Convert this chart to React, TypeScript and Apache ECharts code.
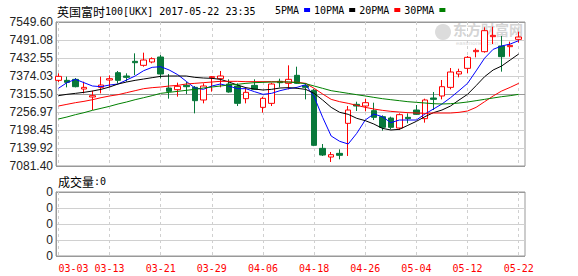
import React, { useEffect, useRef } from 'react';
import * as echarts from 'echarts';

const dates = [
  '03-03', '03-06', '03-07', '03-08', '03-09', '03-10', '03-13', '03-14', '03-15', '03-16', '03-17',
  '03-20', '03-21', '03-22', '03-23', '03-24', '03-27', '03-28', '03-29', '03-30', '03-31',
  '04-03', '04-04', '04-05', '04-06', '04-07', '04-10', '04-11', '04-12', '04-13', '04-18',
  '04-19', '04-20', '04-21', '04-24', '04-25', '04-26', '04-27', '04-28', '05-01', '05-02',
  '05-03', '05-04', '05-05', '05-08', '05-09', '05-10', '05-11', '05-12', '05-15', '05-16',
  '05-17', '05-18', '05-19', '05-22',
];
const opens = [
  7359.9, 7359.9, 7363.1, 7331.7, 7305.7, 7337.1, 7361.0, 7384.8, 7374.0, 7421.7, 7408.7,
  7419.5, 7435.8, 7335.0, 7329.6, 7343.6, 7337.1, 7296.0, 7368.6, 7365.3, 7348.0, 7341.5,
  7300.3, 7343.6, 7272.1, 7285.1, 7356.7, 7350.1, 7376.2, 7342.5, 7327.6, 7138.8, 7110.6,
  7122.5, 7220.1, 7281.9, 7276.4, 7261.3, 7241.8, 7237.4, 7204.9, 7239.6, 7263.4, 7235.3,
  7302.5, 7309.0, 7337.1, 7380.5, 7398.9, 7453.1, 7453.1, 7501.9, 7471.5, 7469.4, 7493.2,
];
const closes = [
  7372.9, 7353.4, 7339.3, 7337.1, 7310.1, 7344.7, 7365.3, 7359.9, 7369.7, 7417.3, 7426.0,
  7430.4, 7380.5, 7324.1, 7340.4, 7339.3, 7293.8, 7341.5, 7371.8, 7374.0, 7322.0, 7285.1,
  7320.9, 7330.6, 7301.4, 7348.0, 7352.3, 7363.2, 7350.1, 7337.1, 7148.6, 7117.1, 7118.2,
  7116.1, 7263.4, 7276.4, 7287.3, 7239.6, 7207.1, 7207.1, 7248.3, 7235.3, 7249.4, 7296.0,
  7298.1, 7339.3, 7387.0, 7388.1, 7434.7, 7457.4, 7521.4, 7506.2, 7436.9, 7473.7, 7500.8,
];
const lows = [
  7354.5, 7337.1, 7337.1, 7317.6, 7263.4, 7317.6, 7337.1, 7350.1, 7355.6, 7377.2, 7404.3,
  7415.2, 7366.4, 7300.3, 7306.8, 7315.5, 7252.6, 7285.1, 7323.1, 7337.1, 7319.8, 7276.4,
  7285.1, 7328.5, 7254.8, 7276.4, 7337.1, 7330.6, 7348.0, 7298.1, 7146.0, 7113.9, 7094.4,
  7103.1, 7114.0, 7260.2, 7259.1, 7230.9, 7196.3, 7200.6, 7198.4, 7220.1, 7247.2, 7222.3,
  7263.4, 7298.1, 7330.6, 7369.7, 7382.7, 7434.7, 7449.9, 7478.0, 7388.1, 7436.9, 7482.4,
];
const highs = [
  7382.7, 7371.8, 7367.5, 7355.6, 7326.3, 7371.8, 7376.2, 7390.3, 7382.7, 7447.7, 7449.9,
  7434.7, 7442.3, 7380.5, 7352.3, 7354.5, 7341.5, 7350.1, 7374.0, 7390.3, 7363.2, 7350.1,
  7337.1, 7363.2, 7306.8, 7352.3, 7365.3, 7408.7, 7404.3, 7350.1, 7332.0, 7152.9, 7126.9,
  7135.6, 7276.4, 7290.5, 7300.3, 7287.3, 7246.1, 7241.8, 7252.6, 7252.6, 7279.7, 7300.3,
  7322.0, 7361.0, 7400.0, 7397.8, 7439.0, 7463.9, 7532.2, 7534.4, 7504.1, 7485.6, 7518.1,
];
const ma5 = [
  7333.9, 7352.3, 7363.2, 7352.3, 7341.5, 7339.3, 7344.7, 7348.0, 7361.0, 7374.0, 7391.3,
  7402.2, 7404.3, 7393.5, 7378.3, 7356.7, 7335.0, 7330.6, 7341.5, 7348.0, 7341.5, 7332.8,
  7332.8, 7323.1, 7314.4, 7317.6, 7326.3, 7332.8, 7337.1, 7345.8, 7306.8, 7239.6, 7178.9,
  7161.6, 7152.9, 7187.6, 7230.9, 7250.4, 7241.8, 7222.3, 7230.9, 7230.9, 7230.9, 7250.4,
  7266.7, 7283.0, 7303.5, 7326.3, 7350.1, 7390.5, 7432.0, 7460.7, 7471.5, 7478.0, 7488.9,
];
const ma10 = [
  7310.1, 7314.4, 7317.6, 7320.9, 7325.2, 7330.6, 7338.2, 7348.0, 7354.5, 7359.9, 7364.2,
  7368.6, 7372.9, 7374.0, 7374.0, 7374.0, 7369.7, 7367.5, 7366.4, 7363.2, 7354.5, 7344.7,
  7336.1, 7331.7, 7328.5, 7330.6, 7335.0, 7336.1, 7333.9, 7330.6, 7317.6, 7295.9, 7272.1,
  7255.9, 7249.4, 7236.4, 7228.8, 7218.0, 7203.9, 7198.4, 7200.6, 7213.6, 7226.6, 7241.8,
  7254.8, 7263.4, 7276.4, 7295.9, 7314.4, 7342.6, 7371.8, 7393.5, 7406.5, 7426.0, 7445.5,
];
const ma20 = [
  7276.4, 7281.9, 7287.3, 7291.6, 7297.0, 7303.5, 7309.0, 7313.3, 7319.8, 7326.3, 7332.8,
  7336.1, 7338.2, 7341.5, 7343.6, 7348.0, 7350.1, 7352.3, 7354.5, 7356.7, 7356.7, 7356.7,
  7355.6, 7355.6, 7355.6, 7355.6, 7355.6, 7354.5, 7353.4, 7350.1, 7333.9, 7315.5, 7298.1,
  7290.5, 7285.1, 7278.6, 7272.1, 7266.7, 7262.4, 7259.1, 7256.9, 7254.8, 7253.7, 7252.6,
  7253.7, 7253.7, 7253.7, 7255.9, 7260.2, 7272.1, 7290.5, 7309.0, 7325.2, 7337.1, 7350.1,
];
const ma30 = [
  7234.2, 7240.7, 7248.3, 7254.8, 7262.4, 7268.9, 7275.4, 7283.0, 7289.5, 7297.0, 7303.5,
  7310.1, 7317.6, 7320.9, 7324.1, 7327.4, 7330.6, 7335.0, 7338.2, 7341.5, 7344.7, 7346.9,
  7350.1, 7352.3, 7353.4, 7354.5, 7354.5, 7354.5, 7352.3, 7349.1, 7341.5, 7333.9, 7326.3,
  7322.0, 7317.6, 7313.3, 7309.0, 7304.6, 7300.3, 7297.0, 7293.8, 7290.5, 7288.4, 7286.2,
  7284.0, 7283.0, 7284.0, 7286.2, 7289.5, 7293.8, 7298.1, 7302.5, 7306.8, 7310.1, 7314.4,
];
const volumes = dates.map(() => 0);

const yTickLabels = [
  '7081.40', '7139.92', '7198.45', '7256.97', '7315.50', '7374.03', '7432.55', '7491.08', '7549.60',
];
const volTickLabels = ['0', '0', '0', '0', '0'];
const priceMin = 7081.4;
const priceMax = 7549.6;

const MONO = "'DejaVu Sans Mono', monospace";
const CJK = "'Noto Sans CJK SC', sans-serif";
const SANS = "'Liberation Sans', Arial, sans-serif";
const UP = '#ff0000';
const DOWN = '#08783a';
const FRAME = '#999999';
const GRIDLINE = '#d0d0d0';

export default function App() {
  const ref = useRef<HTMLDivElement>(null);
  useEffect(() => {
    const chart = echarts.init(ref.current!, null, { renderer: 'svg' });
    const candleData = dates.map((_, i) => [opens[i], closes[i], lows[i], highs[i]]);
    const dataX = (gridIndex: number, showLabels: boolean) => ({
      type: 'category',
      gridIndex,
      data: dates,
      boundaryGap: false,
      axisLine: { show: false },
      axisTick: { show: false },
      axisLabel: {
        show: showLabels,
        interval: 5,
        color: '#ff0000',
        fontFamily: MONO,
        fontSize: 10,
        margin: 7,
        alignMinLabel: 'left',
        alignMaxLabel: 'center',
      },
      splitLine: { show: true, interval: 5, lineStyle: { color: GRIDLINE, type: [3, 3], width: 1 } },
    });
    const frameY = (gridIndex: number, max: number, labels: string[], colors: string[]) => ({
      type: 'value', gridIndex, min: 0, max, interval: 1,
      axisLine: { show: true, onZero: false, lineStyle: { color: FRAME } },
      axisTick: { show: false },
      axisLabel: { show: true, formatter: (v: number) => labels[Math.round(v)], margin: 3, fontFamily: SANS, fontSize: 12, color: '#222' },
      splitLine: { show: true, lineStyle: { color: colors, width: 1 } },
    });
    const option: any = {
      animation: false,
      backgroundColor: '#ffffff',
      grid: [
        { left: 56, top: 22, width: 469, height: 144, show: true, borderColor: FRAME, borderWidth: 1, backgroundColor: 'transparent' },
        { left: 58.4, top: 22, width: 460.3, height: 144 },
        { left: 56, top: 192, width: 469, height: 64, show: true, borderColor: FRAME, borderWidth: 1, backgroundColor: 'transparent' },
        { left: 58.4, top: 192, width: 460.3, height: 64 },
      ],
      xAxis: [
        { type: 'value', gridIndex: 0, min: 0, max: 1, show: false },
        dataX(1, false),
        { type: 'value', gridIndex: 2, min: 0, max: 1, show: false },
        dataX(3, true),
      ],
      yAxis: [
        frameY(0, 8, yTickLabels, [FRAME, GRIDLINE, GRIDLINE, GRIDLINE, FRAME, GRIDLINE, GRIDLINE, GRIDLINE, FRAME]),
        { type: 'value', gridIndex: 1, min: priceMin, max: priceMax, show: false, splitLine: { show: false } },
        frameY(2, 4, volTickLabels, [FRAME, GRIDLINE, GRIDLINE, GRIDLINE, FRAME]),
        { type: 'value', gridIndex: 3, min: 0, max: 1, show: false, splitLine: { show: false } },
      ],
      legend: {
        data: ['5PMA', '10PMA', '20PMA', '30PMA'],
        left: 275,
        top: 5,
        align: 'right',
        icon: 'rect',
        itemWidth: 6,
        itemHeight: 4,
        itemGap: 4,
        padding: 0,
        selectedMode: false,
        textStyle: { fontFamily: MONO, fontSize: 10, color: '#000' },
      },
      graphic: [
        { type: 'circle', z: 0, shape: { cx: 443, cy: 32, r: 8 }, style: { fill: '#dcdcdc' } },
        { type: 'text', z: 0, x: 453, y: 29, style: { text: '东方财富网', font: `bold 14px ${CJK}`, fill: '#d4d4d4', verticalAlign: 'middle' } },
        { type: 'text', z: 0, x: 456, y: 43, style: { text: 'eastmoney.com', font: `6px ${SANS}`, fill: '#dadada', verticalAlign: 'middle' } },
        { type: 'text', x: 57, y: 11, style: { text: '英国富时', font: `12px ${CJK}`, fill: '#000', verticalAlign: 'middle' } },
        { type: 'text', x: 105, y: 11, style: { text: '100[UKX] 2017-05-22 23:35', font: `10px ${MONO}`, fill: '#000', verticalAlign: 'middle' } },
        { type: 'text', x: 58, y: 181, style: { text: '成交量', font: `12px ${CJK}`, fill: '#000', verticalAlign: 'middle' } },
        { type: 'text', x: 94, y: 181, style: { text: ':0', font: `10px ${MONO}`, fill: '#000', verticalAlign: 'middle' } },
      ],
      series: [
        {
          type: 'candlestick',
          xAxisIndex: 1,
          yAxisIndex: 1,
          data: candleData,
          barWidth: 6,
          clip: false,
          z: 2,
          itemStyle: { color: '#ffffff', color0: DOWN, borderColor: UP, borderColor0: DOWN, borderWidth: 1 },
        },
        { name: '5PMA', type: 'line', xAxisIndex: 1, yAxisIndex: 1, data: ma5, showSymbol: false, z: 3, color: '#0000ff', lineStyle: { width: 1, color: '#0000ff' } },
        { name: '10PMA', type: 'line', xAxisIndex: 1, yAxisIndex: 1, data: ma10, showSymbol: false, z: 3, color: '#000000', lineStyle: { width: 1, color: '#000000' } },
        { name: '20PMA', type: 'line', xAxisIndex: 1, yAxisIndex: 1, data: ma20, showSymbol: false, z: 3, color: '#ff0000', lineStyle: { width: 1, color: '#ff0000' } },
        { name: '30PMA', type: 'line', xAxisIndex: 1, yAxisIndex: 1, data: ma30, showSymbol: false, z: 3, color: '#008000', lineStyle: { width: 1, color: '#008000' } },
        { name: 'volume', type: 'bar', xAxisIndex: 3, yAxisIndex: 3, data: volumes, barWidth: 4, itemStyle: { color: DOWN } },
      ],
    };
    chart.setOption(option);
    return () => chart.dispose();
  }, []);
  return (
    <div
      ref={ref}
      style={{ position: 'fixed', left: 0, top: 0, width: 578, height: 276, background: '#fff' }}
    />
  );
}
